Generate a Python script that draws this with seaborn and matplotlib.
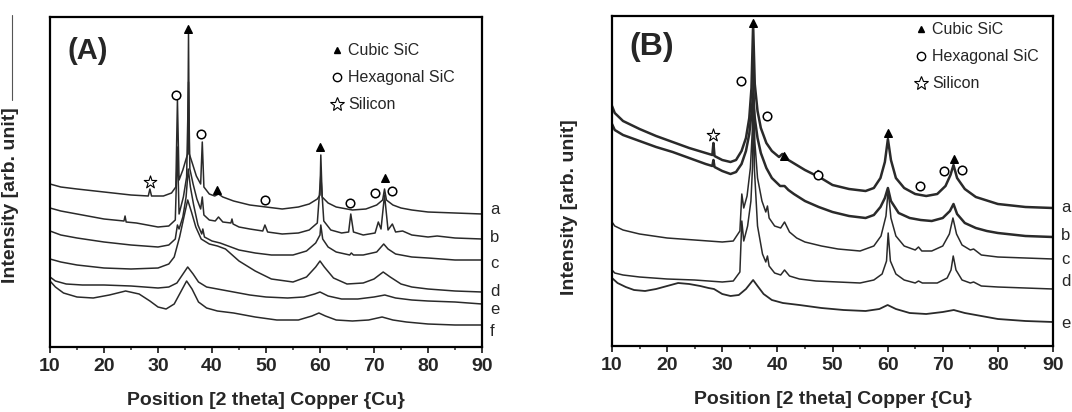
import matplotlib
matplotlib.use('Agg')
import matplotlib.pyplot as plt
from matplotlib.lines import Line2D
import seaborn as sns

sns.set_style('ticks')
plt.rcParams['font.family'] = ['Liberation Sans', 'DejaVu Sans']

# ---- panel A spectra (2 theta, intensity in arb. units) ----
A_a_x = [10, 12, 15, 20, 25, 28.2, 28.5, 28.8, 31, 32.5, 33.3, 33.6, 33.9, 34.6, 35.2, 35.5, 35.65, 35.8, 36.4, 37.1,
         37.9, 38.2, 38.5, 39.5, 40.5, 41.2, 42, 44, 47, 50, 53, 56, 58, 59.5, 60.0, 60.15, 60.4, 61.5, 63, 66,
         68.5, 70.5, 71.6, 71.95, 72.3, 73.5, 75, 77, 80, 85, 90]
A_a_y = [163, 160, 158, 155, 152, 151, 158, 151, 151, 154, 160, 247, 167, 177, 188, 193, 313, 193, 183, 171,
         163, 205, 160, 153, 151, 153, 150, 146, 142, 140, 138, 140, 143, 148, 152, 192, 150, 144, 140, 137,
         138, 142, 147, 158, 147, 142, 139, 137, 135, 134, 133]
A_b_x = [10, 12, 15, 20, 23.7, 23.9, 24.1, 26, 28, 30, 32, 33.2, 33.6, 33.9, 34.7, 35.3, 35.65, 35.9, 36.5, 37.2,
         37.9, 38.2, 38.5, 39.5, 40.6, 41.2, 42, 43.5, 43.7, 43.9, 45, 47, 49.4, 49.8, 50.3, 53, 56, 58, 59.5, 60.15,
         60.7, 62, 64, 65.3, 65.7, 66.2, 68, 70.2, 70.8, 71.3, 71.95, 72.6, 73.4, 74, 75.3, 77, 80, 81.7, 85, 90]
A_b_y = [139, 136, 133, 128, 126, 131, 125, 124, 122, 120, 121, 127, 200, 133, 150, 170, 265, 178, 163, 148,
         138, 150, 132, 127, 126, 130, 125, 124, 128, 123, 120, 118, 116, 122, 115, 113, 114, 117, 124, 172,
         126, 117, 114, 115, 133, 115, 112, 114, 125, 118, 152, 117, 123, 115, 116, 112, 110, 111, 109, 108]
A_c_x = [10, 12, 15, 20, 25, 30, 32, 33.2, 33.6, 33.9, 34.6, 35.2, 35.6, 36.0, 36.6, 37.4, 38.1, 38.3, 38.6, 40,
         41.5, 43, 45, 48, 51, 55, 57.5, 59.2, 60.0, 60.15, 60.5, 61.5, 63, 65.5, 65.8, 66.2, 68, 70.5, 71.8, 72.6,
         74, 77, 80, 85, 90]
A_c_y = [116, 112, 109, 105, 102, 100, 102, 108, 122, 118, 130, 150, 178, 160, 142, 122, 113, 118, 110, 106,
         104, 101, 97, 94, 92, 92, 96, 104, 112, 122, 108, 100, 95, 92, 94, 92, 92, 95, 103, 98,
         93, 90, 89, 87, 87]
A_d_x = [10, 12, 15, 20, 25, 30, 32, 33, 34, 34.8, 35.5, 36.2, 37, 38, 39.5, 41, 42.5, 45, 48, 51,
         55, 57.5, 59.2, 60, 60.8, 62.5, 65, 68, 70, 71.7, 73, 75, 77, 80, 85, 90]
A_d_y = [88, 85, 82, 79, 78, 79, 83, 90, 110, 130, 147, 135, 120, 108, 103, 101, 98, 86, 76, 68,
         65, 70, 80, 86, 80, 69, 63, 64, 68, 75, 70, 63, 60, 58, 56, 55]
A_e_x = [10, 11, 13, 16, 20, 25, 30, 32, 33.5, 34.5, 35.5, 36.5, 37.5, 39, 41, 44, 47, 50, 54, 57,
         59, 60, 61.5, 64, 67, 70, 72, 74, 77, 80, 85, 90]
A_e_y = [70, 66, 63, 62, 62, 61, 59, 60, 64, 72, 80, 73, 65, 60, 58, 55, 52, 50, 49, 50,
         53, 55, 51, 48, 48, 50, 52, 49, 47, 46, 45, 43]
A_f_x = [10, 11, 12.5, 15, 18, 21, 24, 26.5, 28.5, 30, 31.5, 33, 34, 35.3, 36.3, 37.5, 39, 41, 44, 48,
         52, 56, 58.5, 59.8, 61, 63, 66, 69, 71.5, 73.5, 76, 80, 85, 90]
A_f_y = [66, 60, 54, 50, 49, 52, 56, 53, 46, 40, 38, 43, 53, 66, 58, 45, 39, 36, 34, 30,
         27, 27, 31, 34, 31, 27, 26, 27, 30, 27, 25, 23, 22, 22]

# ---- panel B spectra ----
B_a_x = [10, 10.5, 12, 15, 18, 21, 24, 27, 28.2, 28.4, 28.6, 30, 31.5, 32.5, 33.5, 34.3, 34.9, 35.3, 35.6, 35.9,
         36.4, 37, 38, 39, 40.3, 40.9, 41.4, 42, 43.5, 45, 47.2, 47.4, 47.6, 50, 53, 56, 57.5, 58.7, 59.5, 60.05,
         60.6, 61.5, 63, 65, 67, 69, 70.5, 71.4, 71.95, 72.6, 74, 76, 80, 85, 90]
B_a_y = [240, 233, 225, 217, 210, 204, 198, 193, 191, 203, 190, 186, 184, 186, 195, 208, 228, 258, 322, 262,
         235, 218, 203, 195, 189, 192, 191, 186, 181, 176, 170, 175, 169, 161, 157, 155, 158, 168, 184, 207,
         186, 168, 158, 152, 150, 152, 160, 171, 181, 168, 157, 149, 142, 139, 138]
B_b_x = [10, 10.5, 12, 15, 18, 21, 24, 27, 28.2, 28.4, 28.6, 30, 31.5, 32.5, 33.5, 34.3, 34.9, 35.3, 35.6, 35.9,
         36.4, 37, 38, 39, 40.5, 41.3, 42, 43, 45, 47.5, 50, 53, 56, 57.5, 58.7, 59.5, 60.05, 60.6, 62, 64,
         66, 68, 70, 71.3, 71.95, 72.6, 74, 76, 78, 80, 85, 90]
B_b_y = [222, 216, 211, 205, 199, 194, 188, 182, 180, 186, 179, 175, 172, 174, 182, 195, 212, 232, 252, 228,
         208, 193, 178, 168, 160, 160, 156, 152, 145, 139, 134, 130, 128, 131, 139, 148, 158, 145, 133, 128,
         126, 125, 128, 135, 142, 132, 123, 118, 115, 113, 110, 109]
B_c_x = [10, 10.5, 12, 15, 20, 25, 30, 32, 33.2, 33.55, 33.9, 34.5, 35.1, 35.45, 35.65, 35.9, 36.4, 37.2, 37.9, 38.2,
         38.5, 39.5, 40.6, 41.3, 42.2, 43.5, 45, 48, 51, 55, 57.5, 58.8, 59.7, 60.1, 60.6, 61.5, 63, 65, 65.6, 66.2,
         68, 70, 71.2, 71.85, 72.5, 73.5, 75, 75.6, 77, 80, 85, 90]
B_c_y = [124, 120, 116, 112, 108, 106, 104, 105, 115, 152, 138, 150, 178, 215, 290, 205, 168, 145, 134, 140,
         128, 120, 118, 124, 114, 108, 104, 100, 97, 95, 100, 110, 130, 156, 128, 110, 100, 96, 99, 95,
         95, 100, 112, 128, 112, 101, 96, 97, 91, 89, 88, 87]
B_d_x = [10, 10.5, 12, 15, 20, 25, 30, 32, 33.2, 33.55, 33.9, 34.6, 35.2, 35.5, 35.65, 35.85, 36.4, 37.3, 37.9, 38.2,
         38.5, 39.5, 40.6, 41.3, 42.2, 44, 47, 51, 55, 57.5, 59, 59.8, 60.1, 60.5, 61.5, 63, 65, 65.6, 66.3, 69,
         70.8, 71.5, 71.9, 72.4, 73.5, 75, 75.6, 77, 80, 85, 90]
B_d_y = [76, 73, 71, 69, 67, 66, 64, 65, 74, 125, 105, 120, 145, 180, 265, 175, 120, 92, 84, 90,
         80, 73, 71, 76, 70, 67, 65, 64, 63, 66, 72, 85, 113, 85, 72, 66, 63, 65, 63, 63,
         68, 76, 90, 76, 66, 63, 64, 60, 59, 58, 57]
B_e_x = [10, 11, 12.5, 14, 16, 18, 20, 22, 24, 26, 27.5, 28.5, 30, 31.5, 33, 34.3, 35.6, 36.4, 37.5, 39,
         41, 44, 48, 52, 56, 58.5, 60, 61.5, 64, 67, 70, 72, 74, 77, 80, 85, 90]
B_e_y = [68, 63, 59, 56, 55, 57, 60, 63, 62, 60, 58, 57, 52, 50, 51, 57, 66, 60, 52, 46,
         43, 41, 38, 36, 35, 37, 41, 37, 33, 32, 34, 36, 33, 30, 27, 25, 24]

# ---- phase markers above the peaks ----
A_cubic_x, A_cubic_y = [35.55, 41.0, 60.0, 72.0], [318, 157, 200, 169]
A_hex_x, A_hex_y = [33.4, 38.0, 49.8, 65.5, 70.2, 73.4], [252, 213, 147, 144, 154, 156]
A_si_x, A_si_y = [28.5], [165]
B_cubic_x, B_cubic_y = [35.6, 41.2, 60.0, 72.0], [323, 190, 213, 187]
B_hex_x, B_hex_y = [33.4, 38.1, 47.3, 65.9, 70.2, 73.5], [265, 230, 171, 160, 175, 176]
B_si_x, B_si_y = [28.4], [211]

A_labels, A_label_y = ['a', 'b', 'c', 'd', 'e', 'f'], [137, 109, 83, 56, 37, 16]
B_labels, B_label_y = ['a', 'b', 'c', 'd', 'e'], [139, 111, 86, 64, 23]

ticks = [10, 20, 30, 40, 50, 60, 70, 80, 90]
line_col = '#2a2a2a'

panels = [
    dict(ax_rect=[50 / 1072, 65 / 412, 432 / 1072, 330 / 412], title='(A)', tsize=21, ty=0.94,
         curves=[(A_a_x, A_a_y, 1.1), (A_b_x, A_b_y, 1.1), (A_c_x, A_c_y, 1.1),
                 (A_d_x, A_d_y, 1.1), (A_e_x, A_e_y, 1.1), (A_f_x, A_f_y, 1.1)],
         cubic=(A_cubic_x, A_cubic_y), hexa=(A_hex_x, A_hex_y), si=(A_si_x, A_si_y),
         labels=(A_labels, A_label_y), ylab_x=-0.072, ylab_y=0.46, leg=(0.635, 0.94)),
    dict(ax_rect=[612 / 1072, 66 / 412, 441 / 1072, 330 / 412], title='(B)', tsize=23, ty=0.95,
         curves=[(B_a_x, B_a_y, 1.8), (B_b_x, B_b_y, 1.8), (B_c_x, B_c_y, 1.1),
                 (B_d_x, B_d_y, 1.1), (B_e_x, B_e_y, 1.3)],
         cubic=(B_cubic_x, B_cubic_y), hexa=(B_hex_x, B_hex_y), si=(B_si_x, B_si_y),
         labels=(B_labels, B_label_y), ylab_x=-0.078, ylab_y=0.42, leg=(0.672, 1.0)),
]

fig = plt.figure(figsize=(10.72, 4.12), dpi=100)

for p in panels:
    ax = fig.add_axes(p['ax_rect'])
    for xs, ys, lw in p['curves']:
        sns.lineplot(x=xs, y=ys, ax=ax, color=line_col, lw=lw, errorbar=None)

    ax.scatter(*p['cubic'], marker='^', s=30, color='black', zorder=5)
    ax.scatter(*p['hexa'], marker='o', s=38, facecolors='white', edgecolors='black', linewidths=1.1, zorder=5)
    ax.scatter(*p['si'], marker='*', s=90, facecolors='white', edgecolors='black', linewidths=0.8, zorder=5)

    for lab, yv in zip(*p['labels']):
        ax.text(1.018, yv, lab, transform=ax.get_yaxis_transform(), fontsize=12,
                ha='left', va='center', clip_on=False)

    ax.text(0.04, p['ty'], p['title'], transform=ax.transAxes, fontsize=p['tsize'],
            fontweight='bold', ha='left', va='top')

    handles = [
        Line2D([], [], ls='', marker='^', color='black', ms=5, label='Cubic SiC'),
        Line2D([], [], ls='', marker='o', mfc='white', mec='black', mew=1.0, ms=6, label='Hexagonal SiC'),
        Line2D([], [], ls='', marker='*', mfc='white', mec='black', mew=0.8, ms=10, label='Silicon'),
    ]
    ax.legend(handles=handles, loc='upper left', bbox_to_anchor=p['leg'], frameon=False,
              fontsize=11.5, handlelength=0.8, handletextpad=0.3, labelspacing=0.75,
              borderaxespad=0)

    ax.set_xlim(10, 90)
    ax.set_ylim(0, 330)
    ax.set_xticks(ticks)
    ax.set_xticks(range(15, 90, 10), minor=True)
    ax.set_yticks([])
    ax.tick_params(axis='x', which='major', direction='out', length=4, width=1.3, pad=4,
                   labelsize=14)
    ax.tick_params(axis='x', which='minor', direction='out', length=2.5, width=1.1)
    for t in ax.get_xticklabels():
        t.set_fontweight('bold')
    for s in ax.spines.values():
        s.set_linewidth(1.6)
        s.set_color('black')
    ax.set_xlabel('Position [2 theta] Copper {Cu}', fontsize=14, fontweight='bold', labelpad=12)
    ax.set_ylabel('Intensity [arb. unit]', fontsize=14, fontweight='bold')
    ax.yaxis.set_label_coords(p['ylab_x'], p['ylab_y'])

# thin stray rule at far left of the scan
fig.add_artist(Line2D([12 / 1072, 12 / 1072], [1 - 15 / 412, 1 - 100 / 412], color='#555555', lw=0.8))

fig.savefig('out.png', dpi=100)
